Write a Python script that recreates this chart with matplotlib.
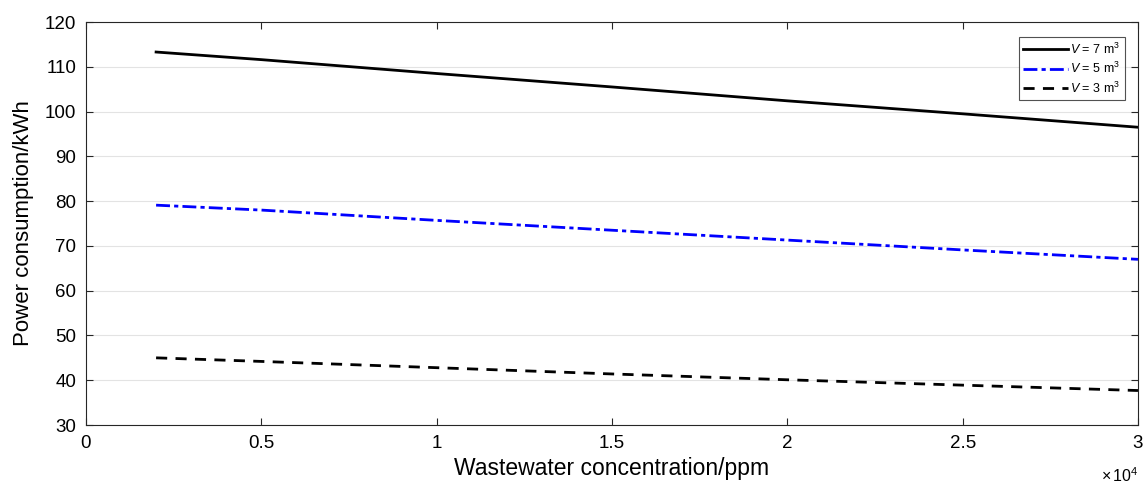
import matplotlib.pyplot as plt
import numpy as np

plt.rcParams['font.family'] = ['Liberation Sans', 'DejaVu Sans']
plt.rcParams['mathtext.fontset'] = 'custom'
plt.rcParams['mathtext.rm'] = 'Liberation Sans'
plt.rcParams['mathtext.it'] = 'Liberation Sans:italic'

# wastewater concentration (ppm)
conc = [2000, 5000, 10000, 15000, 20000, 25000, 30000]
# power consumption (kWh) for each tank volume
power_v7 = [113.3, 111.6, 108.5, 105.5, 102.4, 99.5, 96.5]
power_v5 = [79.1, 78.0, 75.7, 73.5, 71.3, 69.1, 67.0]
power_v3 = [45.0, 44.2, 42.8, 41.4, 40.1, 38.9, 37.7]

x_ticks = [0, 5000, 10000, 15000, 20000, 25000, 30000]
x_tick_labels = ['0', '0.5', '1', '1.5', '2', '2.5', '3']

fig = plt.figure(figsize=(11.43, 4.84), dpi=100)
ax = fig.add_axes([0.0752, 0.1219, 0.9204, 0.8326])

ax.plot(conc, power_v7, color='black', lw=2.0, label=r'$V$ = 7 m$^3$')
ax.plot(conc, power_v5, color='#0000ff', lw=2.0, linestyle=(0, (5, 1.5, 1.5, 1.5)),
        label=r'$V$ = 5 m$^3$')
ax.plot(conc, power_v3, color='black', lw=2.0, linestyle=(0, (4, 3)),
        label=r'$V$ = 3 m$^3$')

ax.set_xlim(0, 30000)
ax.set_ylim(30, 120)
ax.set_xticks(x_ticks)
ax.set_xticklabels(x_tick_labels)
ax.set_yticks(np.arange(30, 121, 10))

ax.grid(axis='y', color='#e3e3e3', lw=0.8)
ax.set_axisbelow(True)
ax.tick_params(direction='in', top=True, right=True, labelsize=13.5, length=5,
               color='#262626', pad=7)
for s in ax.spines.values():
    s.set_color('#262626')
    s.set_linewidth(0.8)

ax.set_xlabel('Wastewater concentration/ppm', fontsize=16.5, labelpad=4)
ax.set_ylabel('Power consumption/kWh', fontsize=16, labelpad=8)
ax.text(1.0, -0.125, r'$\times\,10^4$', transform=ax.transAxes, ha='right',
        va='center', fontsize=11.5)

leg = ax.legend(loc='upper right', fontsize=9, frameon=True, fancybox=False,
                edgecolor='#262626', handlelength=3.6, handletextpad=0.2,
                borderpad=0.35, labelspacing=0.35, borderaxespad=0,
                bbox_to_anchor=(0.9875, 0.963))
leg.get_frame().set_linewidth(0.8)

fig.savefig('out.png', dpi=100)
